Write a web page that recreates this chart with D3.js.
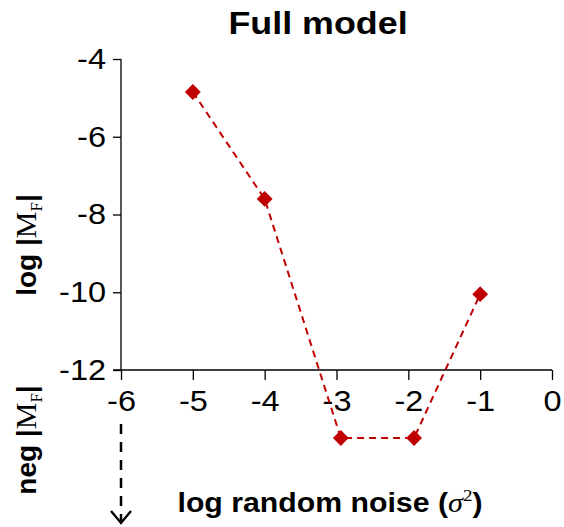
<!DOCTYPE html>
<html lang="en">
<head>
    <meta charset="UTF-8">
    <title>Full model</title>
    <script src="https://d3js.org/d3.v7.min.js"></script>
    <style>
        body { margin: 0; padding: 0; background: #fff; }
        svg text { font-family: 'Liberation Sans', Arial, sans-serif; }
    </style>
</head>
<body>
<svg id="chart" width="564" height="527"></svg>
<script>
    // log random noise (x) and log |M_F| (y); "neg" marks points below the axis
    const noise = [-5, -4, -2.94, -1.92, -1];
    const logMF = [-4.85, -7.6, null, null, -10.05];
    const isNeg = [false, false, true, true, false];
    const negLevel = -13.75;   // where the "neg" row sits, in y units
    const xTicks = [-6, -5, -4, -3, -2, -1, 0];
    const yTicks = [-4, -6, -8, -10, -12];

    const points = noise.map((n, i) => ({ x: n, y: isNeg[i] ? negLevel : logMF[i] }));

    const svg = d3.select("#chart");
    const x = d3.scaleLinear().domain([-6, 0]).range([121, 552]);
    const y = d3.scaleLinear().domain([-12, -4]).range([370, 59]);

    // the original text looks a bit wider than Arial, stretch it
    const widen = 1.12;
    function stretch(sel) {
        sel.each(function() {
            const w = this.getComputedTextLength();
            d3.select(this).attr("textLength", w * widen).attr("lengthAdjust", "spacingAndGlyphs");
        });
    }

    svg.append("text")
        .attr("x", 318).attr("y", 34)
        .attr("text-anchor", "middle")
        .style("font-size", "32px").style("font-weight", "bold")
        .text("Full model")
        .call(stretch);

    // y axis
    const yAxis = svg.append("g")
        .attr("transform", `translate(${x(-6)},0)`)
        .call(d3.axisLeft(y).tickValues(yTicks).tickSize(8).tickPadding(7));
    // x axis
    const xAxis = svg.append("g")
        .attr("transform", `translate(0,${y(-12)})`)
        .call(d3.axisBottom(x).tickValues(xTicks).tickSize(10).tickPadding(10));

    [yAxis, xAxis].forEach(g => {
        g.select(".domain").remove();
        g.selectAll("line").attr("stroke", "#000").attr("stroke-width", 1.3);
        g.selectAll("text")
            .style("font-family", "'Liberation Sans', Arial, sans-serif")
            .style("font-size", "29px").attr("fill", "#000")
            .text(d => d === 0 ? "0" : "-" + Math.abs(d))
            .call(stretch);
    });

    svg.append("line")
        .attr("x1", x(-6)).attr("x2", x(-6))
        .attr("y1", y(-4)).attr("y2", y(-12))
        .attr("stroke", "#000").attr("stroke-width", 1.3);
    svg.append("line")
        .attr("x1", x(-6) - 8).attr("x2", x(0))
        .attr("y1", y(-12)).attr("y2", y(-12))
        .attr("stroke", "#000").attr("stroke-width", 1.3);

    // dashed arrow for the neg region
    svg.append("line")
        .attr("x1", x(-6)).attr("x2", x(-6))
        .attr("y1", 424).attr("y2", 521)
        .attr("stroke", "#000").attr("stroke-width", 2.5)
        .attr("stroke-dasharray", "10,8");
    svg.append("path")
        .attr("d", `M${x(-6) - 10},${511} L${x(-6)},${523} L${x(-6) + 10},${511}`)
        .attr("fill", "none").attr("stroke", "#000").attr("stroke-width", 2.4);

    // series
    const line = d3.line().x(d => x(d.x)).y(d => y(d.y));
    svg.append("path")
        .datum(points)
        .attr("d", line)
        .attr("fill", "none")
        .attr("stroke", "#C00000")
        .attr("stroke-width", 2)
        .attr("stroke-dasharray", "7,5");

    svg.selectAll(".pt")
        .data(points)
        .enter().append("path")
        .attr("class", "pt")
        .attr("transform", d => `translate(${x(d.x)},${y(d.y)})`)
        .attr("d", d3.symbol().type(d3.symbolDiamond2).size(160))
        .attr("fill", "#C00000");

    // axis titles
    svg.append("text")
        .attr("x", 330).attr("y", 512)
        .attr("text-anchor", "middle")
        .style("font-size", "27px").style("font-weight", "bold")
        .call(t => {
            t.append("tspan").text("log random noise (");
            t.append("tspan").style("font-family", "'Liberation Serif', serif")
                .style("font-style", "italic").style("font-weight", "normal").text("σ");
            t.append("tspan").attr("dy", -11).style("font-size", "17px").style("font-weight", "normal")
                .style("font-family", "'Liberation Serif', serif").text("2");
            t.append("tspan").attr("dy", 11).text(")");
        })
        .call(stretch);

    function yTitle(word, cy) {
        svg.append("text")
            .attr("transform", `translate(36,${cy}) rotate(-90)`)
            .attr("text-anchor", "middle")
            .style("font-size", "28px").style("font-weight", "bold")
            .call(t => {
                t.append("tspan").text(word + " |");
                t.append("tspan").style("font-family", "'Liberation Serif', serif")
                    .style("font-size", "30px").style("font-weight", "normal").text("M");
                t.append("tspan").attr("dy", 6).style("font-size", "17px")
                    .style("font-family", "'Liberation Serif', serif").style("font-weight", "normal").text("F");
                t.append("tspan").attr("dy", -6).text("|");
            });
    }
    yTitle("log", 245);
    yTitle("neg", 440);
</script>
</body>
</html>
